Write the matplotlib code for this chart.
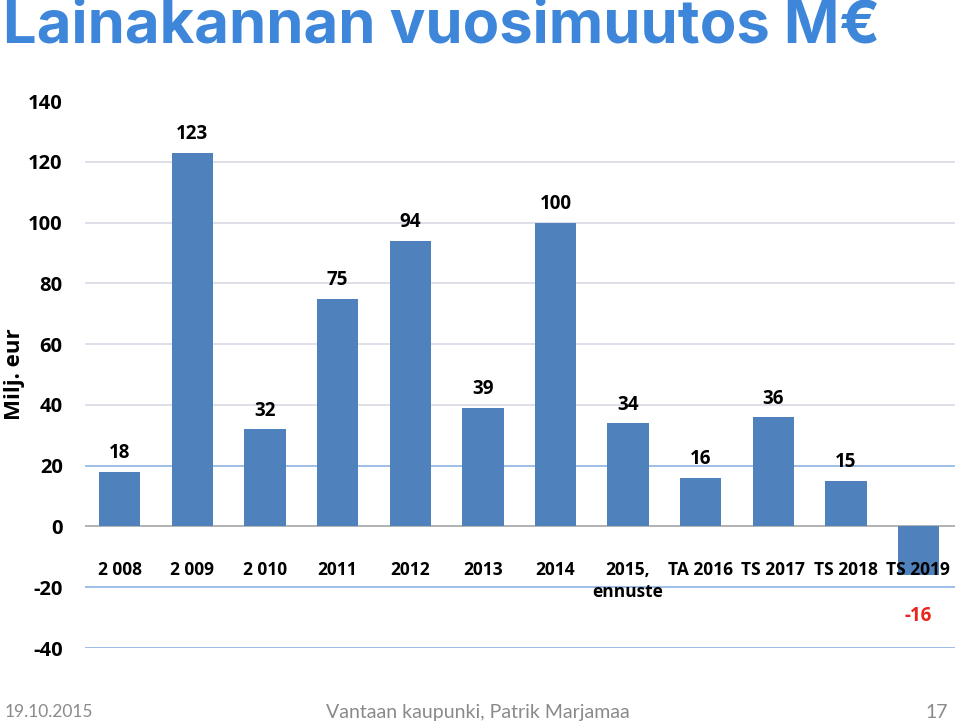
import matplotlib
matplotlib.use("Agg")
import matplotlib.pyplot as plt

categories = ["2 008", "2 009", "2 010", "2011", "2012", "2013", "2014",
              "2015,\nennuste", "TA 2016", "TS 2017", "TS 2018", "TS 2019"]
values = [18, 123, 32, 75, 94, 39, 100, 34, 16, 36, 15, -16]
yticks = [-40, -20, 0, 20, 40, 60, 80, 100, 120, 140]

fig = plt.figure(figsize=(9.6, 7.23), dpi=100)
ax = fig.add_axes([0.0885, 0.1037, 0.906, 0.7566])

n = len(values)
x = list(range(n))
bar_color = "#4f81bd"
ax.bar(x, values, width=0.57, color=bar_color, zorder=3)

ax.set_ylim(-40, 140)
ax.set_xlim(-0.48, n - 1 + 0.5)
ax.set_yticks(yticks)
ax.set_yticklabels([str(t) for t in yticks], fontsize=14.5, fontweight="bold",
                   family=["Open Sans", "DejaVu Sans"])
ax.tick_params(axis="y", length=0, pad=16)
ax.set_xticks([])

for t in yticks:
    if t == 140:
        continue
    if t == 0:
        ax.axhline(0, color="#a6a6a6", lw=1.2, zorder=2)
    elif t in (20, -20, -40):
        ax.axhline(t, color="#8db3e2", lw=1.2, zorder=1)
    else:
        ax.axhline(t, color="#d9d9e6", lw=1.2, zorder=1)

for s in ax.spines.values():
    s.set_visible(False)

for xi, lab in zip(x, categories):
    ax.text(xi, -11.2, lab, ha="center", va="top", fontsize=12.5, fontweight="bold",
            family=["Open Sans", "DejaVu Sans"], linespacing=1.35, zorder=4)

for xi, v in zip(x, values):
    if v >= 0:
        ax.text(xi, v + 2.8, str(v), ha="center", va="bottom", fontsize=13.5,
                fontweight="bold", family=["Open Sans", "DejaVu Sans"], zorder=4)
    else:
        ax.text(xi, v - 13.5, str(v), ha="center", va="center", fontsize=13.5,
                fontweight="bold", color="#e8261c",
                family=["Open Sans", "DejaVu Sans"], zorder=4)

fig.text(0.0146, 0.483, "Milj. eur", rotation=90, ha="center", va="center",
         fontsize=16, fontweight="bold", family=["Open Sans", "DejaVu Sans"])

fig.text(0.003, 0.963, "Lainakannan vuosimuutos M€", ha="left", va="center",
         fontsize=43, fontweight="bold", color="#3d86d9",
         family=["Inter", "DejaVu Sans"])

footer_font = ["Lato", "DejaVu Sans"]
fig.text(0.005, 0.015, "19.10.2015", ha="left", va="center", fontsize=12.5,
         color="#8a8a8a", family=footer_font)
fig.text(0.498, 0.015, "Vantaan kaupunki, Patrik Marjamaa", ha="center", va="center",
         fontsize=14, color="#8a8a8a", family=footer_font)
fig.text(0.987, 0.015, "17", ha="right", va="center", fontsize=14,
         color="#8a8a8a", family=footer_font)

fig.savefig("out.png", dpi=100)
